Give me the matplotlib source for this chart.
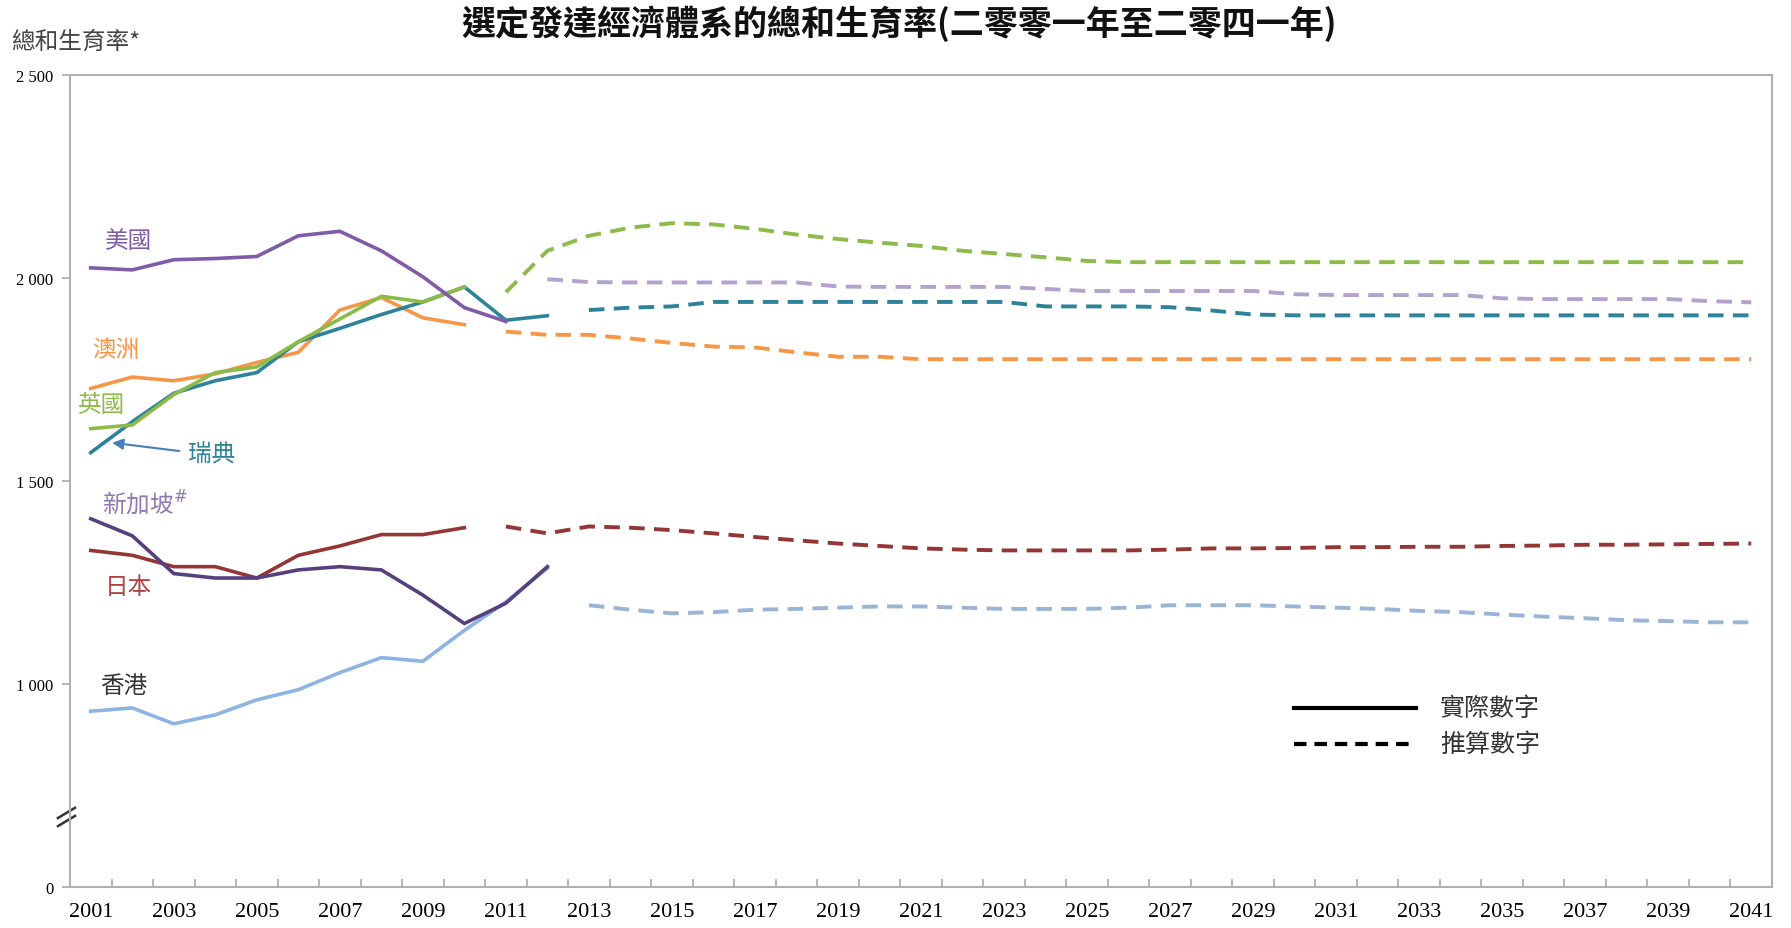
import matplotlib
matplotlib.use("Agg")
import matplotlib.pyplot as plt
import numpy as np

plt.rcParams['font.family'] = ['Noto Sans CJK TC', 'DejaVu Sans']

years_actual = list(range(2001, 2013))
years_all = list(range(2001, 2042))

# Actual values (per 1000 women)
usa_act = [2025, 2020, 2045, 2048, 2053, 2104, 2115, 2067, 2003, 1927, 1893]
uk_act = [1629, 1638, 1713, 1767, 1781, 1843, 1899, 1955, 1941, 1978]
swe_act = [1570, 1646, 1716, 1747, 1767, 1843, 1876, 1910, 1941, 1978, 1896, 1907]
aus_act = [1728, 1756, 1747, 1764, 1792, 1817, 1921, 1952, 1902, 1885]
sgp_act = [1407, 1365, 1272, 1261, 1261, 1281, 1289, 1281, 1219, 1149, 1199, 1289]
jpn_act = [1329, 1317, 1289, 1289, 1261, 1317, 1340, 1368, 1368, 1385]
hk_act = [933, 941, 902, 924, 961, 986, 1028, 1065, 1056, 1132, 1202, 1285]

# Projected values
usa_proj_years = list(range(2012, 2042))
usa_proj = [1997, 1990, 1989, 1989, 1989, 1989, 1989, 1979, 1978, 1978, 1978, 1978, 1973,
            1968, 1968, 1968, 1968, 1968, 1960, 1958, 1958, 1958, 1958, 1950, 1948, 1948,
            1948, 1948, 1943, 1940]
uk_proj_years = list(range(2011, 2042))
uk_proj = [1965, 2067, 2104, 2124, 2135, 2132, 2121, 2107, 2096, 2087, 2079, 2067, 2059,
           2051, 2042] + [2039] * 16
swe_proj_years = list(range(2013, 2042))
swe_proj = [1921, 1927, 1930, 1941, 1941, 1941, 1941, 1941, 1941, 1941, 1941, 1930, 1930,
            1930, 1928, 1920, 1910] + [1908] * 12
aus_proj_years = list(range(2011, 2042))
aus_proj = [1868, 1860, 1860, 1851, 1840, 1831, 1829, 1817, 1806, 1806] + [1800] * 21
jpn_proj_years = list(range(2011, 2042))
jpn_proj = [1388, 1371, 1388, 1385, 1379, 1371, 1362, 1354, 1346, 1340, 1334, 1331, 1329,
            1329, 1329, 1329, 1331, 1334, 1334, 1335, 1337, 1337, 1338, 1338, 1340, 1341,
            1343, 1343, 1344, 1345, 1346]
hk_proj_years = list(range(2013, 2042))
hk_proj = [1194, 1183, 1174, 1177, 1183, 1185, 1188, 1191, 1191, 1188, 1185, 1185, 1185,
           1188, 1194, 1194, 1194, 1191, 1188, 1185, 1180, 1177, 1171, 1166, 1162, 1157,
           1155, 1152, 1152]

legend_labels = ['實際數字', '推算數字']

c_usa = '#7F5BA8'
c_usa_p = '#B3A2CC'
c_uk = '#8CBB4A'
c_swe = '#2E8299'
c_aus = '#F79646'
c_sgp = '#56407F'
c_jpn = '#943634'
c_hk = '#8DB4E2'
c_hk_p = '#9AB4D6'

fig = plt.figure(figsize=(17.91, 9.29), dpi=100)
ax = fig.add_axes([70/1791, 1 - 888/929, (1772-70)/1791, (888-76)/929])

lw_a = 2.6
lw_p = 2.8
dash = (0, (4.0, 2.4))

ax.plot(years_actual[:len(hk_act)], hk_act, color=c_hk, lw=lw_a)
ax.plot(years_actual[:len(jpn_act)], jpn_act, color=c_jpn, lw=lw_a)
ax.plot(years_actual[:len(sgp_act)], sgp_act, color=c_sgp, lw=lw_a)
ax.plot(years_actual[:len(aus_act)], aus_act, color=c_aus, lw=lw_a)
ax.plot(years_actual[:len(swe_act)], swe_act, color=c_swe, lw=lw_a)
ax.plot(years_actual[:len(uk_act)], uk_act, color=c_uk, lw=lw_a)
ax.plot(years_actual[:len(usa_act)], usa_act, color=c_usa, lw=lw_a)

ax.plot(hk_proj_years, hk_proj, color=c_hk_p, lw=lw_p, linestyle=dash)
ax.plot(jpn_proj_years, jpn_proj, color=c_jpn, lw=lw_p, linestyle=dash)
ax.plot(aus_proj_years, aus_proj, color=c_aus, lw=lw_p, linestyle=dash)
ax.plot(swe_proj_years, swe_proj, color=c_swe, lw=lw_p, linestyle=dash)
ax.plot(usa_proj_years, usa_proj, color=c_usa_p, lw=lw_p, linestyle=dash)
ax.plot(uk_proj_years, uk_proj, color=c_uk, lw=lw_p, linestyle=dash)

ax.set_xlim(2000.5, 2041.5)
ax.set_ylim(500, 2500)

ax.set_xticks(years_all[::2])
ax.set_xticklabels([str(y) for y in years_all[::2]], family='Liberation Serif', fontsize=16)
ax.set_xticks(np.arange(2001.5, 2041.5, 1), minor=True)
ax.tick_params(axis='x', which='major', length=0, pad=11)
ax.tick_params(axis='x', which='minor', direction='in', length=6, color='#B0B0B0', width=1.3)

ax.set_yticks([500, 1000, 1500, 2000, 2500])
ax.set_yticklabels(['0', '1 000', '1 500', '2 000', '2 500'], family='Liberation Serif', fontsize=12)
ax.tick_params(axis='y', direction='out', length=6, color='#B0B0B0', width=1.3, pad=6)

for s in ax.spines.values():
    s.set_color('#B0B0B0')
    s.set_linewidth(1.5)

# y-axis break mark
ax.plot([2000.21, 2000.62], [670, 695], color='#333333', lw=1.8, clip_on=False)
ax.plot([2000.21, 2000.62], [650, 675], color='#333333', lw=1.8, clip_on=False)

# series labels
lab_fs = 17
ax.text(2001.9, 2090, '美國', color=c_usa, fontsize=lab_fs, ha='center', va='center')
ax.text(2001.6, 1823, '澳洲', color=c_aus, fontsize=lab_fs, ha='center', va='center')
ax.text(2001.25, 1688, '英國', color=c_uk, fontsize=lab_fs, ha='center', va='center')
ax.text(2003.9, 1567, '瑞典', color=c_swe, fontsize=lab_fs, ha='center', va='center')
ax.text(2002.3, 1449, '新加坡$^{\\#}$', color='#8E7AB5', fontsize=lab_fs, ha='center', va='center')
ax.text(2001.9, 1239, '日本', color='#B0413E', fontsize=lab_fs, ha='center', va='center')
ax.text(2001.8, 997, '香港', color='#333333', fontsize=lab_fs, ha='center', va='center')
ax.annotate('', xy=(2001.45, 1595), xytext=(2003.2, 1573),
            arrowprops=dict(arrowstyle='-|>', color='#4A7EBB', lw=1.5, mutation_scale=16))

# legend (drawn manually)
ax.plot([0.719, 0.791], [0.220, 0.220], transform=ax.transAxes, color='black', lw=3.0)
ax.plot([0.719, 0.791], [0.176, 0.176], transform=ax.transAxes, color='black', lw=3.0,
        linestyle=(0, (3.0, 1.9)))
ax.text(0.805, 0.220, legend_labels[0], transform=ax.transAxes, fontsize=18,
        color='#333333', va='center', ha='left')
ax.text(0.805, 0.176, legend_labels[1], transform=ax.transAxes, fontsize=18,
        color='#333333', va='center', ha='left')

fig.text(0.006, 0.955, '總和生育率*', fontsize=17, color='#444444', ha='left', va='center')
fig.text(0.502, 0.974, '選定發達經濟體系的總和生育率(二零零一年至二零四一年)',
         fontsize=24.5, fontweight='bold', color='#111111', ha='center', va='center')

fig.savefig('out.png', dpi=100)
